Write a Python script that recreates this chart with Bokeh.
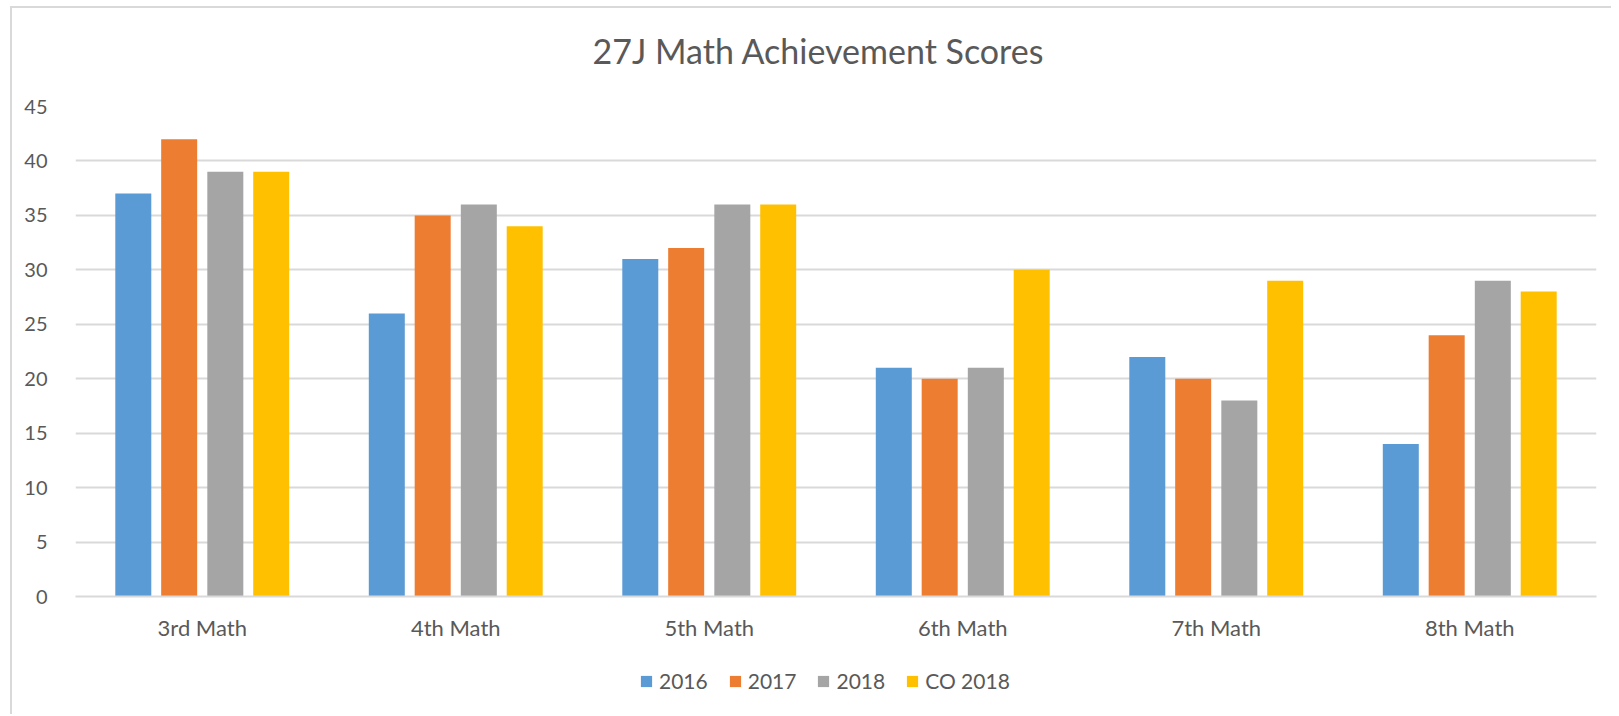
from bokeh.plotting import figure
from bokeh.layouts import column
from bokeh.models import ColumnDataSource, FactorRange, Range1d, SingleIntervalTicker, Legend, LegendItem, Title
from bokeh.transform import dodge
from bokeh.embed import file_html
from bokeh.resources import INLINE

categories = ["3rd Math", "4th Math", "5th Math", "6th Math", "7th Math", "8th Math"]
series_names = ["2016", "2017", "2018", "CO 2018"]
s2016 = [37, 26, 31, 21, 22, 14]
s2017 = [42, 35, 32, 20, 20, 24]
s2018 = [39, 36, 36, 21, 18, 29]
sco2018 = [39, 34, 36, 30, 29, 28]
colors = ["#5B9BD5", "#ED7D31", "#A5A5A5", "#FFC000"]

FONT = "Lato"
TXT = "#595959"

src = ColumnDataSource(dict(cat=categories, s2016=s2016, s2017=s2017, s2018=s2018, sco2018=sco2018))

p = figure(x_range=FactorRange(*categories, range_padding=0), y_range=Range1d(0, 45),
           frame_width=1521, frame_height=490, output_backend="svg", toolbar_location=None,
           min_border_left=63, min_border_right=15, min_border_top=98, min_border_bottom=55)

# spacer between title and plot area
p.add_layout(Title(text=" ", text_font_size="1px", standoff=33), "above")

p.title.text = "27J Math Achievement Scores"
p.title.align = "left"
p.title.offset = 517
p.title.text_font = FONT
p.title.text_font_size = "34px"
p.title.text_font_style = "normal"
p.title.text_color = TXT
p.title.standoff = 0

offsets = [-0.272, -0.091, 0.091, 0.272]
fields = ["s2016", "s2017", "s2018", "sco2018"]
for f, off, c in zip(fields, offsets, colors):
    p.vbar(x=dodge("cat", off, range=p.x_range), top=f, width=0.142, source=src,
           fill_color=c, line_color=None)

p.outline_line_color = None
p.xgrid.grid_line_color = None
p.ygrid.grid_line_color = "#D9D9D9"
p.ygrid.grid_line_width = 2
p.yaxis.ticker = SingleIntervalTicker(interval=5)
for ax in (p.xaxis, p.yaxis):
    ax.major_tick_line_color = None
    ax.minor_tick_line_color = None
    ax.major_label_text_font = FONT
    ax.major_label_text_color = TXT
p.yaxis.major_label_text_font_size = "20px"
p.xaxis.major_label_text_font_size = "22px"
p.yaxis.axis_line_color = None
p.yaxis.major_label_standoff = 22
p.xaxis.axis_line_color = "#D9D9D9"
p.xaxis.axis_line_width = 2
p.xaxis.major_label_standoff = 11

# legend strip below the chart
lg = figure(x_range=p.x_range, y_range=Range1d(100, 101),
            frame_width=1521, frame_height=63, output_backend="svg", toolbar_location=None,
            x_axis_location=None, y_axis_location=None,
            min_border_left=63, min_border_right=15, min_border_top=0, min_border_bottom=0)
lg.outline_line_color = None
lg.xgrid.grid_line_color = None
lg.ygrid.grid_line_color = None
items = []
for f, off, c, name in zip(fields, offsets, colors, series_names):
    r = lg.vbar(x=dodge("cat", off, range=lg.x_range), top=f, width=0.142, source=src,
                fill_color=c, line_color=None)
    items.append(LegendItem(label=name, renderers=[r]))
legend = Legend(items=items, orientation="horizontal", location=(564, 21),
                label_text_font=FONT, label_text_font_size="21px", label_text_color=TXT,
                glyph_width=14, glyph_height=14, label_standoff=6, spacing=20,
                border_line_color=None, background_fill_alpha=0, margin=0, padding=0)
lg.add_layout(legend, "center")

layout = column(p, lg, spacing=0,
                styles={"margin-left": "10px", "margin-top": "6px",
                        "border-left": "2px solid #D9D9D9", "border-top": "2px solid #D9D9D9"})

open("out.html", "w").write(file_html(layout, INLINE))
